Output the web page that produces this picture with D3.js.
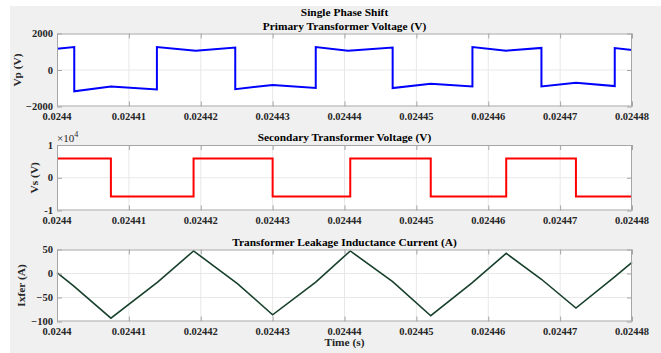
<!DOCTYPE html>
<html>
<head>
<meta charset="utf-8">
<script src="https://cdn.jsdelivr.net/npm/d3@7"></script>
<style>
  html, body { margin: 0; padding: 0; background: #ffffff; }
  svg { display: block; }
  text { font-family: "Liberation Serif", "Times New Roman", serif; }
</style>
</head>
<body>
<svg id="chart" width="661" height="353"></svg>
<script>
// Time axis (seconds) and its tick labels
const timeTicks = [0.0244, 0.02441, 0.02442, 0.02443, 0.02444, 0.02445, 0.02446, 0.02447, 0.02448];
const timeTickLabels = ["0.0244", "0.02441", "0.02442", "0.02443", "0.02444", "0.02445", "0.02446", "0.02447", "0.02448"];

// Primary transformer voltage Vp (V)
const vpTime = [0.0244, 0.0244024, 0.0244024, 0.0244075, 0.0244139, 0.0244139, 0.0244193, 0.0244248, 0.0244248,
  0.0244300, 0.0244360, 0.0244360, 0.0244405, 0.0244467, 0.0244467, 0.0244520, 0.0244578, 0.0244578,
  0.0244625, 0.0244674, 0.0244674, 0.0244722, 0.0244776, 0.0244776, 0.02448];
const vpValues = [1165, 1255, -1170, -910, -1070, 1260, 1050, 1230, -1050,
  -820, -980, 1255, 1060, 1230, -990, -750, -900, 1255,
  1060, 1210, -900, -700, -880, 1200, 1100];
const vpTicks = [-2000, 0, 2000];

// Secondary transformer voltage Vs (V), square wave
const vsTime = [0.0244, 0.0244075, 0.0244075, 0.024419, 0.024419, 0.02443, 0.02443, 0.0244408, 0.0244408,
  0.024452, 0.024452, 0.0244625, 0.0244625, 0.0244722, 0.0244722, 0.02448];
const vsValues = [5850, 5850, -5750, -5750, 5850, 5850, -5750, -5750, 5850,
  5850, -5750, -5750, 5850, 5850, -5750, -5750];
const vsTicks = [-10000, 0, 10000];
const vsTickLabels = ["-1", "0", "1"];

// Transformer leakage inductance current (A)
const ixTime = [0.0244, 0.0244023, 0.0244075, 0.024414, 0.024419, 0.0244251, 0.02443, 0.024436, 0.0244408,
  0.0244467, 0.024452, 0.0244577, 0.0244625, 0.0244674, 0.0244722, 0.0244775, 0.02448];
const ixValues = [2, -26, -93, -18, 47, -21, -86, -18, 47, -17, -88, -20, 42, -12, -72, -8, 23];
const ixTicks = [-100, -50, 0, 50];

const svg = d3.select("#chart");
const W = 661, H = 353;

// figure background
svg.append("rect").attr("x", 10).attr("y", 6).attr("width", W - 10).attr("height", H - 6).attr("fill", "#f0f0f0");

const left = 57, right = 632;
const x = d3.scaleLinear().domain([0.0244, 0.02448]).range([left, right]);

const boxColor = "#a6a6a6";
const gridColor = "#e8e8e8";
const fontBold = "bold";

function panel(opts) {
  const { top, bottom, domain, ticks, tickLabels, time, values, color, width, title, ylabel, ylabelX } = opts;
  const y = d3.scaleLinear().domain(domain).range([bottom, top]);
  const g = svg.append("g");

  g.append("rect").attr("x", left).attr("y", top).attr("width", right - left).attr("height", bottom - top)
    .attr("fill", "#ffffff");

  // grid
  g.append("g").selectAll("line").data(timeTicks.slice(1, -1)).join("line")
    .attr("x1", d => x(d)).attr("x2", d => x(d)).attr("y1", top).attr("y2", bottom)
    .attr("stroke", gridColor).attr("stroke-width", 1);
  g.append("g").selectAll("line").data(ticks.filter(t => t !== domain[0] && t !== domain[1])).join("line")
    .attr("x1", left).attr("x2", right).attr("y1", d => y(d)).attr("y2", d => y(d))
    .attr("stroke", gridColor).attr("stroke-width", 1);

  // data line
  const line = d3.line().x((d, i) => x(time[i])).y((d, i) => y(values[i]));
  g.append("path").datum(values).attr("d", line).attr("fill", "none")
    .attr("stroke", color).attr("stroke-width", width).attr("stroke-linejoin", "miter");

  // axes with inward ticks
  const fmtX = d => timeTickLabels[timeTicks.indexOf(d)];
  const xb = g.append("g").attr("transform", `translate(0,${bottom})`)
    .call(d3.axisTop(x).tickValues(timeTicks).tickSize(5).tickFormat(""));
  const xt = g.append("g").attr("transform", `translate(0,${top})`)
    .call(d3.axisBottom(x).tickValues(timeTicks).tickSize(5).tickFormat(""));
  const yl = g.append("g").attr("transform", `translate(${left},0)`)
    .call(d3.axisRight(y).tickValues(ticks).tickSize(5).tickFormat(""));
  const yr = g.append("g").attr("transform", `translate(${right},0)`)
    .call(d3.axisLeft(y).tickValues(ticks).tickSize(5).tickFormat(""));
  [xb, xt, yl, yr].forEach(a => {
    a.select(".domain").remove();
    a.selectAll("line").attr("stroke", boxColor);
  });

  g.append("rect").attr("x", left + 0.5).attr("y", top + 0.5).attr("width", right - left - 1).attr("height", bottom - top - 1)
    .attr("fill", "none").attr("stroke", boxColor).attr("stroke-width", 1);

  // tick labels
  g.append("g").selectAll("text").data(timeTicks).join("text")
    .attr("x", d => x(d)).attr("y", bottom + 13).attr("text-anchor", "middle")
    .attr("font-size", 10.5).attr("font-weight", fontBold).attr("fill", "#262626")
    .text(fmtX);
  g.append("g").selectAll("text").data(ticks).join("text")
    .attr("x", left - 4).attr("y", d => y(d) + 3.5).attr("text-anchor", "end")
    .attr("font-size", 10.5).attr("font-weight", fontBold).attr("fill", "#262626")
    .text((d, i) => tickLabels ? tickLabels[i] : d3.format("d")(d));

  // title and y label
  g.append("text").attr("x", (left + right) / 2).attr("y", top - 4).attr("text-anchor", "middle")
    .attr("font-size", 11.4).attr("font-weight", fontBold).attr("fill", "#000").text(title);
  g.append("text").attr("transform", `translate(${ylabelX},${(top + bottom) / 2}) rotate(-90)`)
    .attr("text-anchor", "middle").attr("font-size", 11.4).attr("font-weight", fontBold).attr("fill", "#262626")
    .text(ylabel);
  return { g, y };
}

svg.append("text").attr("x", (left + right) / 2).attr("y", 16).attr("text-anchor", "middle")
  .attr("font-size", 11.4).attr("font-weight", "bold").attr("fill", "#000").text("Single Phase Shift");

panel({ top: 33.5, bottom: 106.5, domain: [-2000, 2000], ticks: vpTicks, time: vpTime, values: vpValues,
  color: "#0000ff", width: 2, title: "Primary Transformer Voltage (V)", ylabel: "Vp (V)", ylabelX: 21 });

panel({ top: 145, bottom: 210.5, domain: [-10000, 10000], ticks: vsTicks, tickLabels: vsTickLabels,
  time: vsTime, values: vsValues, color: "#ff0000", width: 2, title: "Secondary Transformer Voltage (V)",
  ylabel: "Vs (V)", ylabelX: 38 });

// exponent marker for the Vs axis
const expo = svg.append("text").attr("x", 57).attr("y", 142).attr("font-size", 11).attr("fill", "#262626");
expo.append("tspan").text("×10");
expo.append("tspan").attr("dy", -5).attr("font-size", 8).text("4");

panel({ top: 249.5, bottom: 321.5, domain: [-100, 50], ticks: ixTicks, time: ixTime, values: ixValues,
  color: "#17402b", width: 1.6, title: "Transformer Leakage Inductance Current (A)", ylabel: "Ixfer (A)", ylabelX: 25 });

svg.append("text").attr("x", (left + right) / 2).attr("y", 346).attr("text-anchor", "middle")
  .attr("font-size", 11.4).attr("font-weight", "bold").attr("fill", "#262626").text("Time (s)");
</script>
</body>
</html>
